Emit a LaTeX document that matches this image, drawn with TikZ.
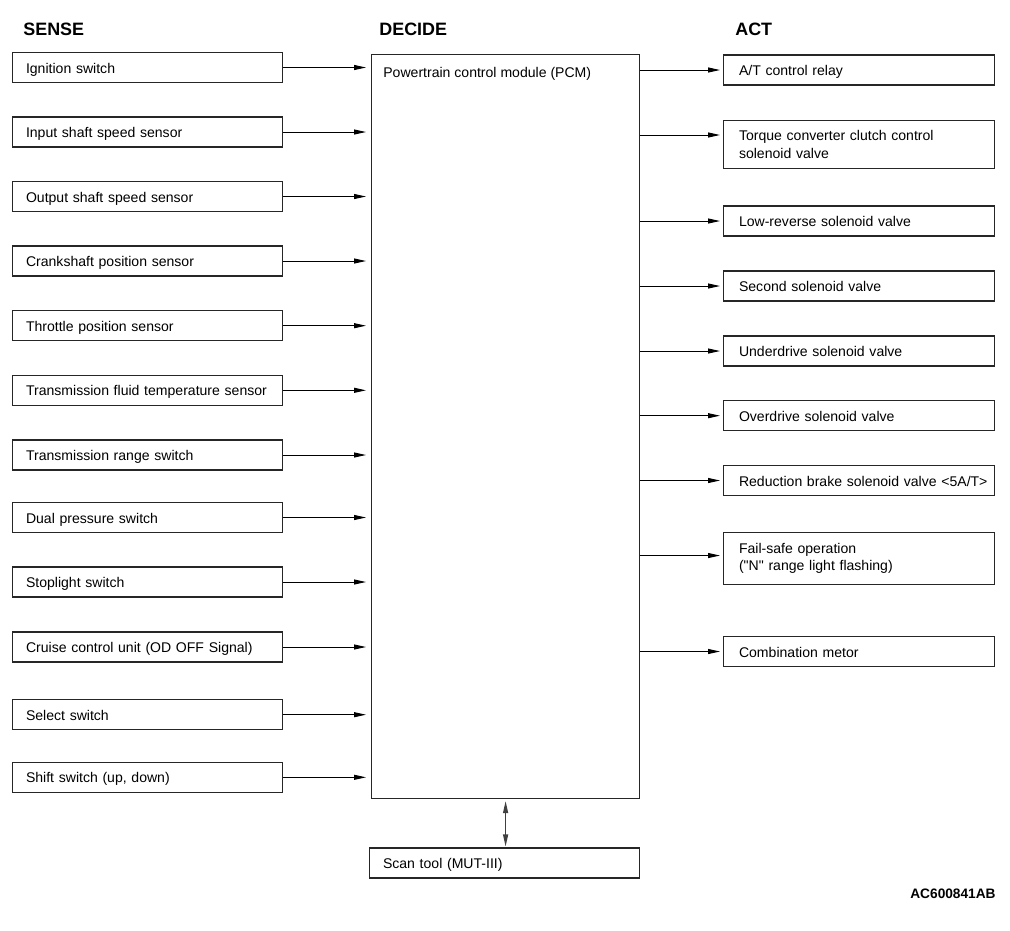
\documentclass[tikz,border=0pt]{standalone}
\usepackage{fontspec}
\setmainfont{Liberation Sans}
\usetikzlibrary{arrows.meta,positioning,calc}
\tikzset{
  inbox/.style  ={draw=black!85,line width=0.6pt,anchor=west,minimum height=6mm,inner ysep=0pt,
                  inner xsep=2.7mm,text width=48.6mm,align=left,font=\fontsize{8}{9.9}\selectfont},
  oneline/.style={text height=2.5mm,text depth=0.3mm},
  outbox/.style ={inbox,inner xsep=3.1mm,text width=48mm},
  pcmbox/.style ={draw=black!85,line width=0.7pt,anchor=north west,inner sep=0pt,
                  minimum width=53.6mm,minimum height=148.8mm},
  head/.style   ={anchor=west,inner sep=0pt,font=\bfseries\fontsize{10.2}{12}\selectfont},
  sig/.style    ={-{Triangle[length=2.4mm,width=1mm]},line width=0.55pt},
  link/.style   ={{Triangle[length=2.4mm,width=1mm]}-{Triangle[length=2.4mm,width=1mm]},line width=0.7pt,black!75},
}

\begin{document}
\begin{tikzpicture}[x=0.02cm,y=-0.02cm]
  \useasboundingbox (0,0) rectangle (1010,930);
  \node[head] (sense)  at (23,29) {SENSE};
  \node[head] (decide) at (379,29){DECIDE};
  \node[head] (act)    at (735,29){ACT};

  \node[pcmbox] (pcm) at (371,54) {};
  \node[anchor=west,inner sep=0pt,font=\fontsize{8}{9.9}\selectfont] (pcmname) at (383,74) {Powertrain control module (PCM)};
  \node[inbox,oneline] (scan) at (369,863) {Scan tool (MUT-III)};

  \node[inbox,oneline] (ign)     at (12,67.5) {Ignition switch};
  \node[inbox,oneline] (inshaft) at (12,132)  {Input shaft speed sensor};
  \node[inbox,oneline] (outshaft) at (12,196.5){Output shaft speed sensor};
  \node[inbox,oneline] (crank)   at (12,261)  {Crankshaft position sensor};
  \node[inbox,oneline] (thr)     at (12,325.7){Throttle position sensor};
  \node[inbox,oneline] (fluid)   at (12,390.3){Transmission fluid temperature sensor};
  \node[inbox,oneline] (range)   at (12,455)  {Transmission range switch};
  \node[inbox,oneline] (dual)    at (12,517.5){Dual pressure switch};
  \node[inbox,oneline] (stop)    at (12,582)  {Stoplight switch};
  \node[inbox,oneline] (cruise)  at (12,647)  {Cruise control unit (OD OFF Signal)};
  \node[inbox,oneline] (select)  at (12,714.7){Select switch};
  \node[inbox,oneline] (shift)   at (12,777.3){Shift switch (up, down)};

  \node[outbox,oneline] (atrel)    at (723,70)  {A/T control relay};
  \node[outbox,anchor=north west,minimum height=9.6mm] (tcc) at (723,120) {Torque converter clutch control\\solenoid valve};
  \node[outbox,oneline] (lowrev)   at (723,221) {Low-reverse solenoid valve};
  \node[outbox,oneline] (second)   at (723,286) {Second solenoid valve};
  \node[outbox,oneline] (udrive)   at (723,351) {Underdrive solenoid valve};
  \node[outbox,oneline] (odrive)   at (723,415.7){Overdrive solenoid valve};
  \node[outbox,oneline] (redbrake) at (723,480.5){\mbox{Reduction brake solenoid valve <5A/T>}};
  \node[outbox,anchor=north west,minimum height=10.4mm] (fail) at (723,532) {Fail-safe operation\\(\textquotedbl N\textquotedbl{} range light flashing)};
  \node[outbox,oneline] (combi)    at (723,651.5){Combination metor};

  \node[anchor=east,inner sep=0pt,font=\bfseries\fontsize{7.8}{9}\selectfont] (figid) at (996,894) {AC600841AB};

  \foreach \n in {ign,inshaft,outshaft,crank,thr,fluid,range,dual,stop,cruise,select,shift}{
    \draw[sig,shorten >=1mm] (\n.east) -- (pcm.west |- \n.east);}
  \foreach \n in {atrel,lowrev,second,udrive,odrive,redbrake,combi}{
    \draw[sig,shorten >=0.6mm] (pcm.east |- \n.west) -- (\n.west);}
  \coordinate (tccpin)  at ([yshift=-3mm]tcc.north west);
  \coordinate (failpin) at ([yshift=0.6mm]fail.west);
  \draw[sig,shorten >=0.6mm] (pcm.east |- tccpin) -- (tccpin);
  \draw[sig,shorten >=0.6mm] (pcm.east |- failpin) -- (failpin);
  \draw[link,shorten <=0.4mm,shorten >=0.2mm] (pcm.south) -- (pcm.south |- scan.north);
\end{tikzpicture}
\end{document}
